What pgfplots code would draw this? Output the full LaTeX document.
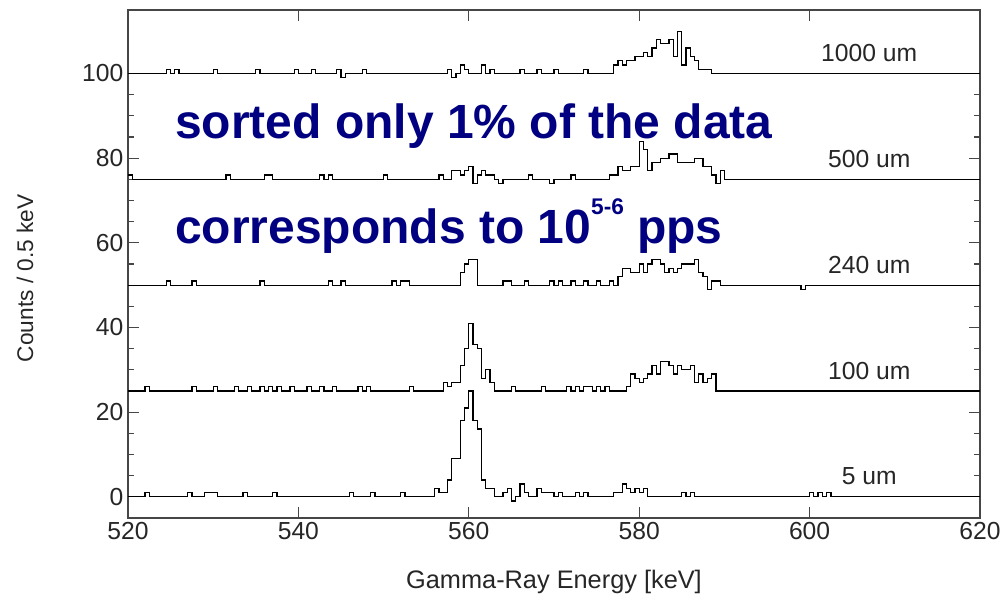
\documentclass[border=0pt]{standalone}
\usepackage{fontspec}
\setmainfont{Liberation Sans}
\usepackage{pgfplots}
\pgfplotsset{compat=1.18}
\definecolor{navytext}{RGB}{0,0,128}
\definecolor{axgray}{RGB}{70,70,70}
\begin{document}
\begin{tikzpicture}
\begin{axis}[
  name=ax, at={(0,0)}, anchor=south west,
  width=639pt, height=381pt, scale only axis,
  xmin=520, xmax=620, ymin=-5, ymax=115,
  xtick={520,540,...,620}, ytick={0,20,...,100},
  minor y tick num=3,
  axis line style={axgray, line width=1pt},
  major tick length=8pt, minor tick length=4.5pt,
  tick style={axgray, line width=0.8pt},
  tick align=inside,
  /pgf/number format/assume math mode=true,
  ticklabel style={font=\fontsize{18.5}{20}\selectfont, text=black!85},
  xlabel={Gamma-Ray Energy [keV]},
  ylabel={Counts / 0.5 keV},
  xlabel style={font=\fontsize{19}{22}\selectfont, text=black!85, at={(axis description cs:0.5,-0.126)}, anchor=center},
  ylabel style={font=\fontsize{17}{20}\selectfont, text=black!85, at={(axis description cs:-0.121,0.472)}, anchor=center},
  clip=false,
]
% 1000 um (offset 100)
\addplot[const plot, black, line width=0.95pt, mark=none] coordinates {
(520,100) (524.5,101) (525,100) (525.5,101) (526,100) (530,101) (530.5,100) (535,101) (535.5,100) (539.5,101) (540,100) (541.5,101) (542,100) (544.5,101) (545,99) (545.5,100) (547.5,101) (548,100) (557.5,101) (558,99) (558.5,100) (559,102) (559.5,101) (560,100) (561.5,102) (562,100) (562.5,101) (563,100) (566,101) (566.5,100) (568,101) (568.5,100) (570,101) (570.5,100) (573.5,101) (574,100)
(577,102) (577.5,103) (578,102) (578.5,103) (579.5,104) (580.5,105) (581,104) (581.5,106) (582,108) (582.5,107) (583.5,108) (584,104) (584.5,110) (585,102) (585.5,106) (586,104) (586.5,103) (587,101) (588.5,100) (620,100)
};
% 500 um (offset 75)
\addplot[const plot, black, line width=0.95pt, mark=none] coordinates {
(520,76) (520.5,75) (531.5,76) (532,75) (536,76) (537,75) (542.5,76) (543,75) (543.5,76) (544,75) (550,76) (550.5,75) (556.5,76) (557,75) (558,77) (559,76) (559.5,77) (560,78) (560.5,74) (561,76) (561.5,77) (562,76) (563,75) (563.5,74) (564,75) (567,76) (567.5,75) (569.5,74) (570,75) (572,76) (572.5,75) (576.5,76) (577.5,78) (578,77) (579,78) (580,84) (580.5,82) (581,77) (581.5,79) (582.5,80) (583.5,81) (584.5,79) (586.5,80) (587.5,78) (588.5,76) (589,74) (589.5,77) (590,75) (620,75)
};
% 240 um (offset 50)
\addplot[const plot, black, line width=0.95pt, mark=none] coordinates {
(520,50) (524.5,51) (525,50) (527.5,51) (528,50) (535.5,51) (536,50) (543.5,51) (544,50) (545,51) (545.5,50) (551,51) (551.5,50) (552,51) (553,50) (559,53) (559.5,55) (560,56) (561,50) (564,51) (565,50) (566.5,51) (567,50) (569.5,51) (570,50) (570.5,51) (571,50) (572,51) (572.5,50) (573.5,51) (574,50) (575,51) (575.5,50) (576.5,51) (577,50) (577.5,52) (578,54) (579,53) (580,55) (580.5,53) (581,55) (581.5,56) (582.5,55) (583,53) (583.5,54) (584,53) (584.5,54) (585,55) (586.5,56) (587,53) (587.5,52) (588,49) (588.5,51) (589.5,50) (599,49) (599.5,50) (620,50)
};
% 100 um (offset 25)
\addplot[const plot, black, line width=0.95pt, mark=none] coordinates {
(520,25) (522,26) (522.5,25) (527.5,26) (528,25) (530,26) (530.5,25) (532.5,26) (533,25) (534,26) (534.5,25) (535.5,26) (536,25) (536.5,26) (537,25) (537.5,26) (538,25) (539,26) (539.5,25) (541,26) (541.5,25) (542.5,26) (543,25) (544,26) (544.5,25) (547,26) (547.5,25) (548,26) (548.5,25) (553,26) (553.5,25) (557,27) (557.5,26) (558,27) (559,31) (559.5,35) (560,41) (560.5,36) (561,35) (561.5,28) (562,30) (562.5,27) (563,25) (565,26) (565.5,25) (568.5,26) (569,25) (571.5,26) (572,25) (572.5,26) (573,25) (573.5,26) (574.5,25) (575,26) (575.5,25) (576,26) (576.5,25) (578.5,26) (579,29) (579.5,28) (580,27) (580.5,28) (581,29) (581.5,31) (582,29) (582.5,32) (583.5,31) (584,29) (584.5,31) (585,30) (586,31) (586.5,27) (587,29) (587.5,27) (588,28) (588.5,29) (589,25) (620,25)
};
% 5 um (offset 0)
\addplot[const plot, black, line width=0.95pt, mark=none] coordinates {
(520,0) (522,1) (522.5,0) (527,1) (527.5,0) (529,1) (530.5,0) (533.5,1) (534,0) (537,1) (537.5,0) (546,1) (546.5,0) (548.5,1) (549,0) (552,1) (552.5,0) (556,2) (556.5,1) (557.5,4) (558,9) (559,18) (559.5,21) (560,25) (560.5,18) (561,16) (561.5,4) (562,2) (563,0) (564,1) (564.5,2) (565,-1) (565.5,0) (566,3) (566.5,1) (567,0) (568,2) (568.5,1) (570,0) (570.5,1) (571,0) (572.5,1) (573,0) (573.5,1) (574,0) (577,1) (578,3) (578.5,2) (579,1) (579.5,2) (580,1) (580.5,2) (581,0) (585,1) (585.5,0) (586,1) (586.5,0) (600,1) (600.5,0) (601,1) (601.5,0) (602,1) (602.5,0) (620,0)
};
\node[font=\fontsize{18.5}{22}\selectfont, text=black!85] at (axis cs:607,104.9) {1000 um};
\node[font=\fontsize{18.5}{22}\selectfont, text=black!85] at (axis cs:607,79.9) {500 um};
\node[font=\fontsize{18.5}{22}\selectfont, text=black!85] at (axis cs:607,54.8) {240 um};
\node[font=\fontsize{18.5}{22}\selectfont, text=black!85] at (axis cs:607,29.8) {100 um};
\node[font=\fontsize{18.5}{22}\selectfont, text=black!85] at (axis cs:607,4.8) {5 um};
\node[anchor=base west, inner sep=0pt, font=\fontsize{36}{40}\selectfont\bfseries, text=navytext] at (axis cs:525.5,84.7) {sorted only 1\% of the data};
\node[anchor=base west, inner sep=0pt, font=\fontsize{36}{40}\selectfont\bfseries, text=navytext] at (axis cs:525.5,59.9) {corresponds to 10\raisebox{0.6em}{\fontsize{17}{19}\selectfont\bfseries 5-6} pps};
\end{axis}
\pgfresetboundingbox
\path[use as bounding box] (-96pt,-57.75pt) rectangle (660pt,388.5pt);
\end{tikzpicture}
\end{document}
